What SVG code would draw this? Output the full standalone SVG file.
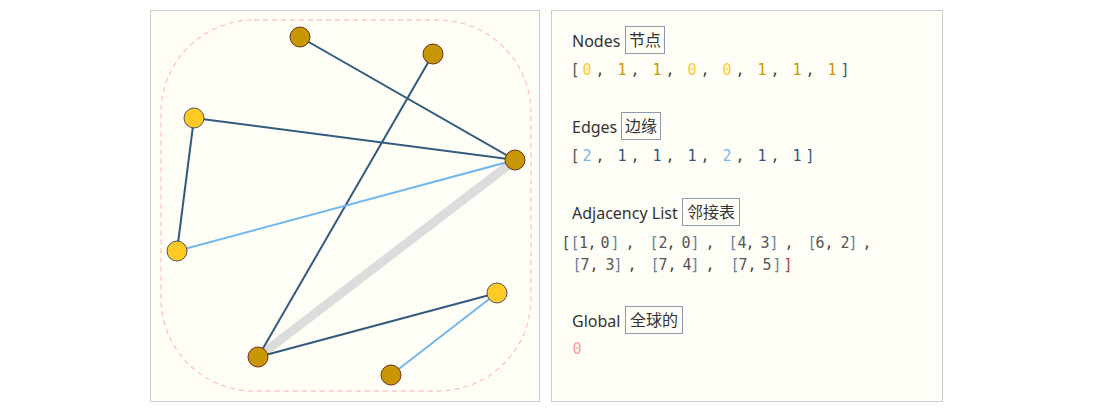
<svg xmlns="http://www.w3.org/2000/svg" width="1093" height="413" viewBox="0 0 1093 413">
<style>
.panel{fill:#fffef6;stroke:#cccccc;stroke-width:1}
.hull{fill:none;stroke:#ffc4c4;stroke-width:1.3;stroke-dasharray:5 4}
.e1{stroke:#325a7e;stroke-width:2;fill:none}
.e2{stroke:#72b7ef;stroke-width:2;fill:none}
.hl{stroke:#dcdcdc;stroke-width:9;fill:none}
.n1{fill:#c89600;stroke:#6e3320;stroke-width:1}
.n0{fill:#ffc926;stroke:#555555;stroke-width:1}
.lbl{font-family:"Noto Sans","Open Sans",sans-serif;font-size:16px;fill:#333333}
.cjk{font-family:"Noto Sans CJK SC",sans-serif;font-size:16px;fill:#333333;text-anchor:middle}
.box{fill:none;stroke:#8d9ab0;stroke-width:1}
.mono{font-family:"DejaVu Sans Mono",monospace;font-size:15px;text-anchor:middle}
.br{fill:#555555}
.cm{fill:#444444}
.v0{fill:#ffc933}
.v1{fill:#c89600}
.w2{fill:#72b7ef}
.w1{fill:#325a7e}
.ib{fill:#6d7fa0}
.num{fill:#555555}
.end{fill:#a04040}
.g0{fill:#f4a0a0}
</style>
<rect x="0" y="0" width="1093" height="413" fill="#ffffff"/>
<rect class="panel" x="150.5" y="10.5" width="389" height="391"/>
<rect class="panel" x="551.5" y="10.5" width="391" height="391"/>
<rect class="hull" x="161" y="20" width="370" height="371" rx="93" ry="93"/>
<g id="connectors">
<line class="hl" x1="258" y1="357" x2="515" y2="160"/>
<line class="e1" x1="300" y1="37" x2="515" y2="160"/>
<line class="e1" x1="433" y1="54" x2="258" y2="357"/>
<line class="e1" x1="194" y1="118" x2="515" y2="160"/>
<line class="e1" x1="194" y1="118" x2="177" y2="251"/>
<line class="e2" x1="177" y1="251" x2="515" y2="160"/>
<line class="e1" x1="258" y1="357" x2="497" y2="293"/>
<line class="e2" x1="497" y1="293" x2="391" y2="375"/>
</g>
<g id="node0"><circle class="n0" cx="497" cy="293" r="10"/></g>
<g id="node1"><circle class="n1" cx="391" cy="375" r="10"/></g>
<g id="node2"><circle class="n1" cx="258" cy="357" r="10"/></g>
<g id="node3"><circle class="n0" cx="177" cy="251" r="10"/></g>
<g id="node4"><circle class="n0" cx="194" cy="118" r="10"/></g>
<g id="node5"><circle class="n1" cx="300" cy="37" r="10"/></g>
<g id="node6"><circle class="n1" cx="433" cy="54" r="10"/></g>
<g id="node7"><circle class="n1" cx="515" cy="160" r="10"/></g>
<g id="info-nodes">
<text class="lbl" x="572" y="47">Nodes</text>
<rect class="box" x="625.5" y="26.5" width="39" height="27"/>
<text class="cjk" x="645" y="46">节点</text>
<text class="mono" y="75"><tspan class="br" x="575">[</tspan><tspan class="v0" x="587">0</tspan><tspan class="cm" x="600">,</tspan><tspan class="v1" x="622">1</tspan><tspan class="cm" x="635">,</tspan><tspan class="v1" x="657">1</tspan><tspan class="cm" x="670">,</tspan><tspan class="v0" x="692">0</tspan><tspan class="cm" x="705">,</tspan><tspan class="v0" x="727">0</tspan><tspan class="cm" x="740">,</tspan><tspan class="v1" x="762">1</tspan><tspan class="cm" x="775">,</tspan><tspan class="v1" x="797">1</tspan><tspan class="cm" x="810">,</tspan><tspan class="v1" x="832">1</tspan><tspan class="w1" x="845">]</tspan></text>
</g>
<g id="info-edges">
<text class="lbl" x="572" y="133">Edges</text>
<rect class="box" x="621.5" y="112.5" width="39" height="27"/>
<text class="cjk" x="641" y="132">边缘</text>
<text class="mono" y="161"><tspan class="br" x="575">[</tspan><tspan class="w2" x="587">2</tspan><tspan class="cm" x="600">,</tspan><tspan class="w1" x="622">1</tspan><tspan class="cm" x="635">,</tspan><tspan class="w1" x="657">1</tspan><tspan class="cm" x="670">,</tspan><tspan class="w1" x="692">1</tspan><tspan class="cm" x="705">,</tspan><tspan class="w2" x="727">2</tspan><tspan class="cm" x="740">,</tspan><tspan class="w1" x="762">1</tspan><tspan class="cm" x="775">,</tspan><tspan class="w1" x="797">1</tspan><tspan class="w1" x="810">]</tspan></text>
</g>
<g id="info-adjacency">
<text class="lbl" x="572" y="219">Adjacency List</text>
<rect class="box" x="682.5" y="198.5" width="57" height="27"/>
<text class="cjk" x="711" y="218">邻接表</text>
<text class="mono" y="248"><tspan class="br" x="566">[</tspan><tspan class="ib" x="575">[</tspan><tspan class="num" x="583.5">1</tspan><tspan class="cm" x="592">,</tspan><tspan class="num" x="605">0</tspan><tspan class="ib" x="615">]</tspan><tspan class="cm" x="630">,</tspan><tspan class="ib" x="654">[</tspan><tspan class="num" x="663">2</tspan><tspan class="cm" x="671">,</tspan><tspan class="num" x="686">0</tspan><tspan class="ib" x="695">]</tspan><tspan class="cm" x="710">,</tspan><tspan class="ib" x="733">[</tspan><tspan class="num" x="742">4</tspan><tspan class="cm" x="750">,</tspan><tspan class="num" x="765">3</tspan><tspan class="ib" x="774">]</tspan><tspan class="cm" x="789">,</tspan><tspan class="ib" x="812">[</tspan><tspan class="num" x="820">6</tspan><tspan class="cm" x="829">,</tspan><tspan class="num" x="845">2</tspan><tspan class="ib" x="853">]</tspan><tspan class="cm" x="867">,</tspan></text>
<text class="mono" y="270"><tspan class="ib" x="577">[</tspan><tspan class="num" x="585">7</tspan><tspan class="cm" x="594">,</tspan><tspan class="num" x="610">3</tspan><tspan class="ib" x="618">]</tspan><tspan class="cm" x="632">,</tspan><tspan class="ib" x="655">[</tspan><tspan class="num" x="663">7</tspan><tspan class="cm" x="672">,</tspan><tspan class="num" x="687">4</tspan><tspan class="ib" x="695">]</tspan><tspan class="cm" x="710">,</tspan><tspan class="ib" x="735">[</tspan><tspan class="num" x="743">7</tspan><tspan class="cm" x="752">,</tspan><tspan class="num" x="767">5</tspan><tspan class="ib" x="777">]</tspan><tspan class="end" x="788">]</tspan></text>
</g>
<g id="info-global">
<text class="lbl" x="572" y="327">Global</text>
<rect class="box" x="625.5" y="306.5" width="57" height="27"/>
<text class="cjk" x="654" y="326">全球的</text>
<text class="mono" y="354"><tspan class="g0" x="577">0</tspan></text>
</g>
</svg>
